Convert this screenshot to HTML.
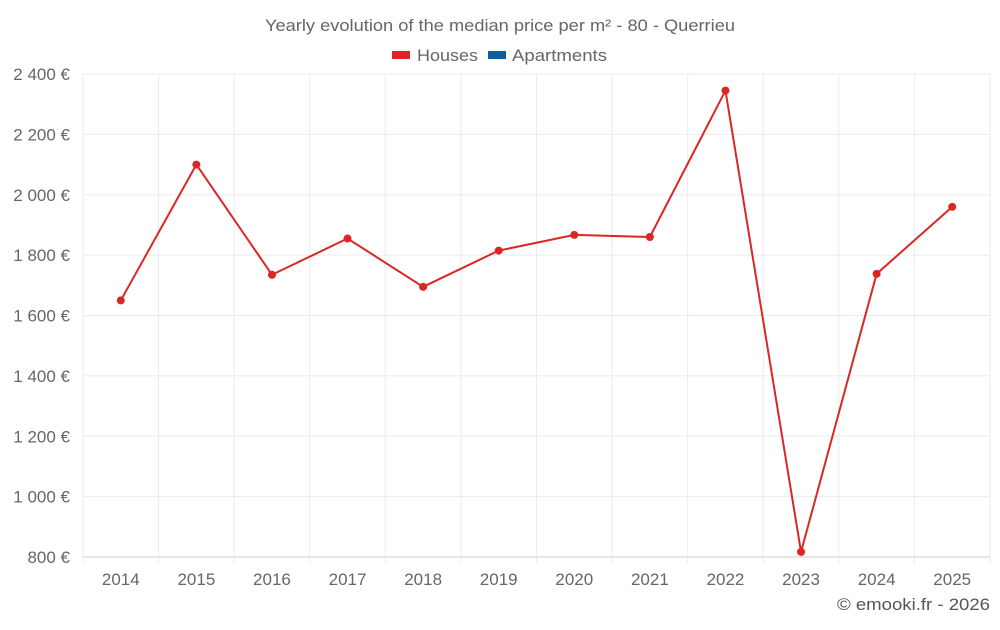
<!DOCTYPE html>
<html><head><meta charset="utf-8"><style>
body{margin:0;background:#fff;font-family:"Liberation Sans",sans-serif;}
svg text{font-family:"Liberation Sans",sans-serif;}
</style></head><body>
<svg id="chart" width="1000" height="625" xmlns="http://www.w3.org/2000/svg">
<text x="265" y="31" textLength="470" lengthAdjust="spacingAndGlyphs" font-size="16.5" fill="#666">Yearly evolution of the median price per m² - 80 - Querrieu</text>
<g>
<rect x="392" y="51" width="18" height="8" fill="#dc2626"/>
<text x="417" y="61" textLength="61" lengthAdjust="spacingAndGlyphs" font-size="17" fill="#666">Houses</text>
<rect x="488" y="51" width="18" height="8" fill="#0e5e9c"/>
<text x="512" y="61" textLength="95" lengthAdjust="spacingAndGlyphs" font-size="17" fill="#666">Apartments</text>
</g>
<g id="grid"></g><g id="axes"></g><g id="series"></g>
<text x="837" y="610" textLength="153" lengthAdjust="spacingAndGlyphs" font-size="16.5" fill="#555">© emooki.fr - 2026</text>
</svg>
<script>
const years=["2014","2015","2016","2017","2018","2019","2020","2021","2022","2023","2024","2025"];
const houses=[1650,2100,1735,1855,1695,1815,1867,1860,2345,817,1738,1960];
const yTicks=[800,1000,1200,1400,1600,1800,2000,2200,2400];
const ns="http://www.w3.org/2000/svg";
const L=83,R=990,T=74,B=557,yMin=800,yMax=2400;
const band=(R-L)/years.length;
const x=i=>L+band*(i+0.5);
const y=v=>B-(v-yMin)/(yMax-yMin)*(B-T);
function mk(tag,attrs,parent){const e=document.createElementNS(ns,tag);for(const k in attrs)e.setAttribute(k,attrs[k]);parent.appendChild(e);return e;}
const grid=document.getElementById('grid'),axes=document.getElementById('axes'),ser=document.getElementById('series');
const fmt=v=>{const s=String(v);return (s.length>3?s.slice(0,s.length-3)+' '+s.slice(-3):s)+' €';};
yTicks.forEach(v=>{
 const l=mk('line',{x1:L,x2:R,y1:y(v),y2:y(v),stroke:v===yMin?'#ccc':'#ebebeb'},grid);
 
 
 const t=mk('text',{x:70,y:y(v)+6,'text-anchor':'end','font-size':17,fill:'#666'},axes);
 t.textContent=fmt(v);
 
 
});
for(let i=0;i<=years.length;i++){
 const gx=L+band*i;
 const l=mk('line',{x1:gx,x2:gx,y1:T,y2:B+6,stroke:'#ebebeb'},grid);
 
 
}
years.forEach((yr,i)=>{
 const t=mk('text',{x:x(i),y:585,'text-anchor':'middle','font-size':17,fill:'#666'},axes);
 t.textContent=yr;
 
 
});
const pl=mk('polyline',{points:houses.map((v,i)=>x(i)+','+y(v)).join(' '),fill:'none',stroke:'#dc2626','stroke-width':2},ser);


houses.forEach((v,i)=>{
 const c=mk('circle',{cx:x(i),cy:y(v),r:4,fill:'#dc2626'},ser);
 
 
});
</script>
</body></html>
